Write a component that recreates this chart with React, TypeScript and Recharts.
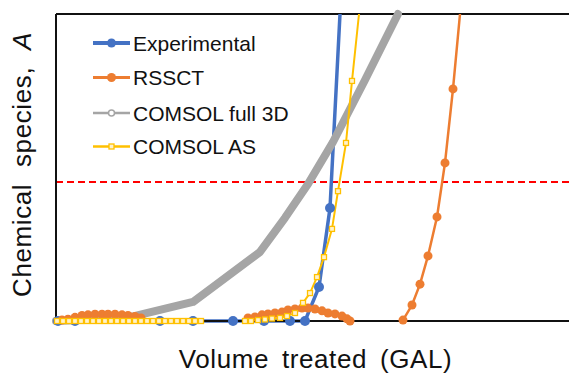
import React from "react";
import { LineChart, Line, XAxis, YAxis, ReferenceLine, Legend, Label } from "recharts";

// Volume (arbitrary units, 0..513) and normalized concentration (0..1)
const experimentalX = [2, 19, 104, 137, 177, 208, 234, 249, 263, 274, 284];
const experimentalY = [0, 0, 0, 0, 0, 0, 0, 0, 0.111, 0.368, 1.0];

const rssctX = [6, 12, 19, 26, 32, 39, 46, 52, 59, 66, 72, 79, 85, 130,
  192, 199, 206, 212, 219, 226, 232, 239, 246, 252, 259, 266, 272, 279, 286, 291, 294, 320,
  347, 356, 364, 372, 381, 389, 397, 404];
const rssctY: (number | null)[] = [0.003, 0.006, 0.012, 0.018, 0.02, 0.022, 0.022, 0.022, 0.022, 0.02, 0.018, 0.015, 0.01, null,
  0.01, 0.013, 0.02, 0.023, 0.026, 0.029, 0.036, 0.039, 0.042, 0.042, 0.039, 0.033, 0.026, 0.023, 0.016, 0.007, 0, null,
  0.003, 0.052, 0.12, 0.212, 0.339, 0.515, 0.756, 1.0];

const full3dX = [0, 71, 137, 204, 229, 252, 277, 309, 342];
const full3dY = [0, 0.01, 0.062, 0.225, 0.336, 0.446, 0.583, 0.785, 1.0];

const asX = [1, 7, 13, 19, 25, 31, 37, 43, 49, 55, 61, 67, 73, 79, 85, 91, 97, 103, 109, 115, 121, 127, 133, 139, 145, 167,
  189, 195, 202, 209, 216, 224, 231, 239, 247, 254, 261, 268, 276, 282, 290, 296, 303];
const asY: (number | null)[] = [0, 0, 0, 0, 0, 0, 0, 0, 0, 0, 0, 0, 0, 0, 0, 0, 0, 0, 0, 0, 0, 0, 0, 0, 0, null,
  0, 0, 0.003, 0.005, 0.008, 0.01, 0.016, 0.026, 0.059, 0.091, 0.143, 0.208, 0.30, 0.423, 0.58, 0.782, 1.0];

const threshold = 0.453;

const seriesNames = ["Experimental", "RSSCT", "COMSOL full 3D", "COMSOL AS"];
const seriesColors = ["#4472C4", "#ED7D31", "#A5A5A5", "#FFC000"];

const zip = (xs: number[], ys: (number | null)[]) => xs.map((x, i) => ({ x, y: ys[i] }));
const experimentalData = zip(experimentalX, experimentalY);
const rssctData = zip(rssctX, rssctY);
const full3dData = zip(full3dX, full3dY);
const asData = zip(asX, asY);

const FONT = "'Liberation Sans', Arial, sans-serif";

const circleDot = (r: number, color: string) => (props: any) => {
  const { cx, cy, value, index } = props;
  if (cx == null || cy == null || value == null || value >= 1) return <g key={`e${index}`} />;
  return <circle key={`c${index}`} cx={cx} cy={cy} r={r} fill={color} stroke="none" />;
};

const squareDot = (props: any) => {
  const { cx, cy, value, index } = props;
  if (cx == null || cy == null || value == null || value >= 1) return <g key={`e${index}`} />;
  return <rect key={`s${index}`} x={cx - 2.5} y={cy - 2.5} width={5} height={5} fill="#FFF2CC" stroke="#FFC000" strokeWidth={1.3} />;
};

const LegendContent = () => {
  const rowY = [17, 51.5, 87, 120.5];
  return (
    <svg width={270} height={140} style={{ display: "block" }}>
      {seriesNames.map((name, i) => {
        const y = rowY[i];
        const c = seriesColors[i];
        const sw = i === 0 ? 4 : i === 1 ? 3 : 2.5;
        return (
          <g key={name}>
            <line x1={5} x2={42} y1={y} y2={y} stroke={c} strokeWidth={sw} />
            {i < 2 && <circle cx={23.5} cy={y} r={4.5} fill={c} />}
            {i === 2 && <circle cx={23.5} cy={y} r={3} fill="#fff" stroke={c} strokeWidth={1.5} />}
            {i === 3 && <rect x={21} y={y - 2.5} width={5} height={5} fill="#FFF2CC" stroke={c} strokeWidth={1.3} />}
            <text x={45} y={y + 7.5} fontFamily={FONT} fontSize={21} fill="#111">{name}</text>
          </g>
        );
      })}
    </svg>
  );
};

export default function App() {
  return (
    <div style={{ position: "absolute", left: 0, top: 0, width: 569, height: 373, background: "#fff" }}>
      <LineChart width={569} height={373} margin={{ top: 14, right: 0, bottom: 0, left: 0 }}>
        <XAxis
          type="number"
          dataKey="x"
          domain={[0, 513]}
          height={52}
          tick={false}
          tickLine={false}
          axisLine={{ stroke: "#111", strokeWidth: 2 }}
        >
          <Label
            content={(p: any) => {
              const vb = p.viewBox || { x: 56, y: 321, width: 513 };
              return (
                <text x={vb.x + vb.width / 2 + 3} y={vb.y + 47} textAnchor="middle" fontFamily={FONT} fontSize={26}
                  fill="#111" style={{ letterSpacing: 0.6, wordSpacing: 5 }}>
                  Volume treated (GAL)
                </text>
              );
            }}
          />
        </XAxis>
        <YAxis
          type="number"
          domain={[0, 1]}
          width={56}
          tick={false}
          tickLine={false}
          axisLine={{ stroke: "#111", strokeWidth: 2 }}
        >
          <Label
            content={(p: any) => {
              const vb = p.viewBox || { x: 0, y: 14, height: 307 };
              const cy = vb.y + vb.height / 2 - 3;
              return (
                <text x={31} y={cy} transform={`rotate(-90 31 ${cy})`} textAnchor="middle" fontFamily={FONT}
                  fontSize={26} fill="#111" style={{ letterSpacing: 0.6, wordSpacing: 9 }}>
                  Chemical species, <tspan fontStyle="italic">A</tspan>
                </text>
              );
            }}
          />
        </YAxis>
        <ReferenceLine y={1} stroke="#111" strokeWidth={2} />
        <ReferenceLine y={threshold} stroke="#FF0000" strokeWidth={2} strokeDasharray="7 4" />
        <Legend
          layout="vertical"
          align="center"
          verticalAlign="middle"
          wrapperStyle={{ left: 88, top: 26, width: 270, height: 140 }}
          content={() => <LegendContent />}
        />
        <Line data={experimentalData} dataKey="y" name={seriesNames[0]} stroke={seriesColors[0]} strokeWidth={3.5}
          dot={circleDot(5, seriesColors[0])} activeDot={false} isAnimationActive={false} connectNulls={false} />
        <Line data={rssctData} dataKey="y" name={seriesNames[1]} stroke={seriesColors[1]} strokeWidth={2.5}
          dot={circleDot(4.5, seriesColors[1])} activeDot={false} isAnimationActive={false} connectNulls={false} />
        <Line data={full3dData} dataKey="y" name={seriesNames[2]} stroke={seriesColors[2]} strokeWidth={8}
          strokeLinecap="round" strokeLinejoin="round" dot={false} activeDot={false} isAnimationActive={false} />
        <Line data={asData} dataKey="y" name={seriesNames[3]} stroke={seriesColors[3]} strokeWidth={2}
          dot={squareDot} activeDot={false} isAnimationActive={false} connectNulls={false} />
      </LineChart>
    </div>
  );
}
